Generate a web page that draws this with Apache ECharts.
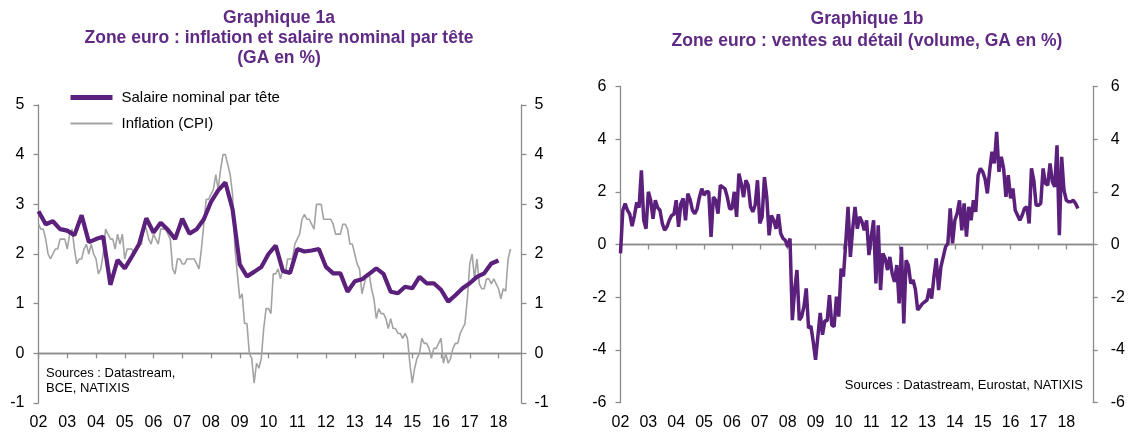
<!DOCTYPE html>
<html lang="fr">
<head>
<meta charset="UTF-8" />
<title>Zone euro</title>
<script src="https://cdn.jsdelivr.net/npm/echarts@6/dist/echarts.min.js"></script>
<style>
  body { margin: 0; background: #fff; }
  #chart { width: 1128px; height: 432px; }
</style>
</head>
<body>
<div id="chart"></div>
<script>
// tick labels of both time axes (one per year from 2002)
const yearLabels = ['02', '03', '04', '05', '06', '07', '08', '09', '10', '11', '12', '13', '14', '15', '16', '17', '18'];

// Graphique 1a: nominal wage per head, quarterly from 2002 Q1 (GA en %)
const wage = [
  2.86, 2.6, 2.66, 2.5,
  2.47, 2.38, 2.78, 2.24,
  2.3, 2.35, 1.38, 1.88,
  1.71, 1.95, 2.2, 2.72,
  2.43, 2.63, 2.49, 2.3,
  2.71, 2.41, 2.5, 2.7,
  3.05, 3.28, 3.44, 2.9,
  1.79, 1.55, 1.64, 1.74,
  2.0, 2.17, 1.66, 1.62,
  2.1, 2.05, 2.07, 2.1,
  1.74, 1.61, 1.61, 1.24,
  1.45, 1.49, 1.6, 1.71,
  1.6, 1.24, 1.21, 1.34,
  1.31, 1.54, 1.41, 1.41,
  1.28, 1.04, 1.17, 1.31,
  1.41, 1.54, 1.61, 1.81,
  1.87
];

// Graphique 1a: CPI inflation, monthly from Jan 2002
const cpi = [
  2.6, 2.5, 2.5, 2.3, 2.0, 1.9, 2.0, 2.1, 2.1, 2.3, 2.3, 2.3,
  2.1, 2.4, 2.5, 2.1, 1.8, 1.9, 1.9, 2.1, 2.2, 2.0, 2.2, 2.0,
  1.9, 1.6, 1.7, 2.0, 2.5, 2.4, 2.3, 2.3, 2.1, 2.4, 2.2, 2.4,
  1.9, 2.1, 2.1, 2.1, 2.0, 2.1, 2.2, 2.2, 2.6, 2.5, 2.3, 2.2,
  2.4, 2.3, 2.2, 2.5, 2.5, 2.5, 2.4, 2.3, 1.7, 1.6, 1.9, 1.9,
  1.8, 1.8, 1.9, 1.9, 1.9, 1.9, 1.8, 1.7, 2.1, 2.6, 3.1, 3.1,
  3.2, 3.3, 3.6, 3.3, 3.7, 4.0, 4.0, 3.8, 3.6, 3.2, 2.1, 1.6,
  1.1, 1.2, 0.6, 0.6, 0.0, -0.1, -0.6, -0.2, -0.3, -0.1, 0.5, 0.9,
  0.9, 0.8, 1.6, 1.6, 1.7, 1.5, 1.7, 1.6, 1.9, 1.9, 1.9, 2.2,
  2.3, 2.4, 2.7, 2.8, 2.7, 2.7, 2.6, 2.5, 3.0, 3.0, 3.0, 2.7,
  2.7, 2.7, 2.7, 2.6, 2.4, 2.4, 2.4, 2.6, 2.6, 2.5, 2.2, 2.2,
  2.0, 1.8, 1.7, 1.2, 1.4, 1.6, 1.6, 1.3, 1.1, 0.7, 0.9, 0.8,
  0.8, 0.7, 0.5, 0.7, 0.5, 0.5, 0.4, 0.4, 0.3, 0.4, 0.3, -0.2,
  -0.6, -0.3, -0.1, 0.0, 0.3, 0.2, 0.2, 0.1, -0.1, 0.1, 0.1, 0.2,
  0.3, -0.2, 0.0, -0.2, -0.1, 0.1, 0.2, 0.2, 0.4, 0.5, 0.6, 1.1,
  1.8, 2.0, 1.5, 1.9, 1.4, 1.3, 1.3, 1.5, 1.5, 1.4, 1.5, 1.4,
  1.3, 1.1, 1.3, 1.25, 1.9, 2.1
];

// Graphique 1b: retail sales volume, monthly from Jan 2002
const retail = [
  -0.34, 1.3, 1.55, 1.3, 1.15, 0.7, 1.1, 1.6, 1.4, 2.82, 0.92, 0.6,
  2.0, 1.68, 0.98, 1.68, 1.4, 1.3, 0.8, 0.54, 0.67, 0.92, 1.1, 1.15,
  1.68, 0.67, 1.55, 1.75, 0.92, 1.93, 1.7, 1.3, 1.17, 1.36, 1.8, 2.12,
  1.87, 2.0, 2.0, 0.29, 1.8, 1.68, 1.17, 2.25, 2.18, 2.12, 1.8, 1.36,
  1.36, 2.0, 1.05, 2.69, 2.31, 1.8, 2.44, 2.25, 1.43, 1.24, 1.5, 2.44,
  0.8, 1.05, 2.56, 1.8, 0.35, 1.1, 0.92, 0.6, 1.15, 0.42, 0.23, 0.16,
  -0.09, 0.23, -2.87, -1.73, -0.97, -2.87, -2.74, -2.36, -1.67, -3.18, -3.1, -3.69,
  -4.38, -3.5, -2.6, -3.43, -2.9, -2.9, -1.92, -3.06, -3.12, -1.98, -2.74, -0.91,
  -1.22, 0.04, 1.43, -0.47, 0.6, 1.43, 0.6, 1.05, 0.86, 0.54, 0.92, -0.4,
  0.3, 0.92, -1.48, 0.73, -1.73, -0.34, -0.53, -0.97, -0.47, -1.1, -1.42, -0.78,
  -2.24, -0.09, -3.0, -0.6, -0.8, -1.48, -1.35, -1.7, -2.49, -2.37, -2.25, -2.18,
  -2.11, -1.67, -2.05, -1.23, -0.53, -1.73, -0.85, -0.47, -0.09, 0.04, 1.37, 0.04,
  0.92, 1.18, 1.68, 0.54, 1.56, 0.3, 1.43, 0.92, 1.68, 1.24, 2.63, 2.89,
  2.76, 2.5, 1.94, 2.82, 3.52, 3.08, 4.28, 2.76, 3.33, 2.89, 1.81, 2.63,
  1.75, 2.13, 1.3, 1.11, 0.92, 1.11, 1.37, 1.43, 0.8, 2.89, 2.44, 1.49,
  1.49, 1.56, 2.89, 2.32, 2.25, 3.08, 2.38, 2.19, 3.77, 0.35, 3.33, 2.06,
  1.68, 1.62, 1.62, 1.68, 1.56, 1.37
];

const FONT = '"Liberation Sans", Arial, sans-serif';
const PURPLE = '#5b1f7c';
const GREY = '#a3a3a3';
const AXIS = '#8c8c8c';

const firstYear = 2002;
const monthly = vals => vals.map((v, i) => [firstYear + i / 12, v]);
const quarterly = vals => vals.map((v, i) => [firstYear + i / 4, v]);

function xAxisFor(gridIndex, max) {
  return {
    type: 'value', gridIndex, min: firstYear, max, interval: 1,
    axisLine: { lineStyle: { color: AXIS, width: 1.3 } },
    axisTick: { length: 5, lineStyle: { color: AXIS, width: 1.3 } },
    axisLabel: {
      color: '#000', fontSize: 16, fontFamily: FONT, margin: 12,
      showMaxLabel: false,
      formatter: v => Number.isInteger(v) ? (yearLabels[v - firstYear] || '') : ''
    },
    splitLine: { show: false }
  };
}

function yAxisFor(gridIndex, position, min, max, interval, margin) {
  return {
    type: 'value', gridIndex, position, min, max, interval,
    axisLine: { show: true, lineStyle: { color: AXIS, width: 1.3 } },
    axisTick: { show: true, length: 5, lineStyle: { color: AXIS, width: 1.3 } },
    axisLabel: { color: '#000', fontSize: 16, fontFamily: FONT, margin },
    splitLine: { show: false }
  };
}

const zeroLine = {
  silent: true, symbol: 'none', z: 1,
  label: { show: false },
  lineStyle: { color: AXIS, width: 1.3, type: 'solid' },
  data: [{ yAxis: 0 }]
};

const titleStyle = { color: '#5f2a84', fontFamily: FONT, fontSize: 17.5, fontWeight: 'bold', lineHeight: 20 };

const chart = echarts.init(document.getElementById('chart'), null, { renderer: 'canvas' });
chart.setOption({
  animation: false,
  title: [
    {
      text: 'Graphique 1a\nZone euro : inflation et salaire nominal par tête\n(GA en %)',
      left: 274, top: 3, textAlign: 'center', textStyle: titleStyle
    },
    {
      text: 'Graphique 1b\nZone euro : ventes au détail (volume, GA en %)',
      left: 862, top: 3, textAlign: 'center', textStyle: Object.assign({}, titleStyle, { lineHeight: 22 })
    }
  ],
  legend: {
    data: [
      { name: 'Salaire nominal par tête', lineStyle: { width: 5 } },
      { name: 'Inflation (CPI)' }
    ],
    orient: 'vertical', left: 63, top: 85,
    itemWidth: 42, itemHeight: 14, itemGap: 11,
    itemStyle: { opacity: 0 },
    textStyle: { color: '#000', fontSize: 15, fontFamily: FONT, padding: [0, 0, 0, 4] }
  },
  grid: [
    { left: 38.5, top: 105, width: 483, height: 298 },
    { left: 620.5, top: 86.5, width: 482.5, height: 316 }
  ],
  xAxis: [xAxisFor(0, 2018.8), xAxisFor(1, 2018.95)],
  yAxis: [
    yAxisFor(0, 'left', -1, 5, 1, 14),
    yAxisFor(0, 'right', -1, 5, 1, 13),
    yAxisFor(1, 'left', -6, 6, 2, 14),
    yAxisFor(1, 'right', -6, 6, 2, 18)
  ],
  graphic: [
    {
      type: 'text', left: 46, top: 366,
      style: { text: 'Sources : Datastream,\nBCE, NATIXIS', font: '13px ' + FONT, fill: '#000', lineHeight: 15 }
    },
    {
      type: 'text', right: 45, top: 379,
      style: { text: 'Sources : Datastream, Eurostat, NATIXIS', font: '13px ' + FONT, fill: '#000' }
    }
  ],
  series: [
    {
      name: 'Inflation (CPI)', type: 'line', xAxisIndex: 0, yAxisIndex: 0,
      data: monthly(cpi), symbol: 'none', z: 2,
      lineStyle: { color: GREY, width: 1.6 }, itemStyle: { color: GREY },
      markLine: zeroLine
    },
    {
      name: 'Salaire nominal par tête', type: 'line', xAxisIndex: 0, yAxisIndex: 0,
      data: quarterly(wage), symbol: 'none', z: 3,
      lineStyle: { color: PURPLE, width: 4.2 }, itemStyle: { color: PURPLE }
    },
    {
      name: 'Ventes au détail', type: 'line', xAxisIndex: 1, yAxisIndex: 2,
      data: monthly(retail), symbol: 'none', z: 3,
      lineStyle: { color: PURPLE, width: 3.5 }, itemStyle: { color: PURPLE },
      markLine: zeroLine
    }
  ]
});
</script>
</body>
</html>
